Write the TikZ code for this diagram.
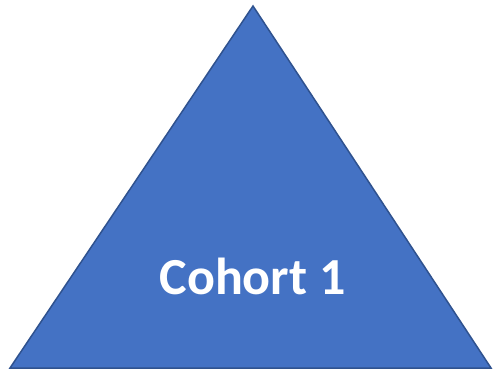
\documentclass[tikz,border=0pt]{standalone}
\usepackage{fontspec}
\setmainfont{Carlito}
\definecolor{cohortfill}{HTML}{4472C4}
\definecolor{cohortline}{HTML}{2F528F}
\tikzset{
    cohort/.style={fill=cohortfill, draw=cohortline, line width=1.5pt, line join=miter},
    label/.style={text=white, font=\fontsize{52}{60}\selectfont\bfseries, inner sep=0}
    }
\begin{document}
\begin{tikzpicture}[x=1pt, y=1pt]
                \useasboundingbox (0,0) rectangle (494,374);
                % The Triangle
                \coordinate (top) at (253,368);
                \coordinate (left) at (10,6);
                \coordinate (right) at (491,6);
                \draw[cohort] (top) -- (left) -- (right) -- cycle;
                \node(name)[label, anchor=base] at (252.5,79) {Cohort 1};
            \end{tikzpicture}
\end{document}
